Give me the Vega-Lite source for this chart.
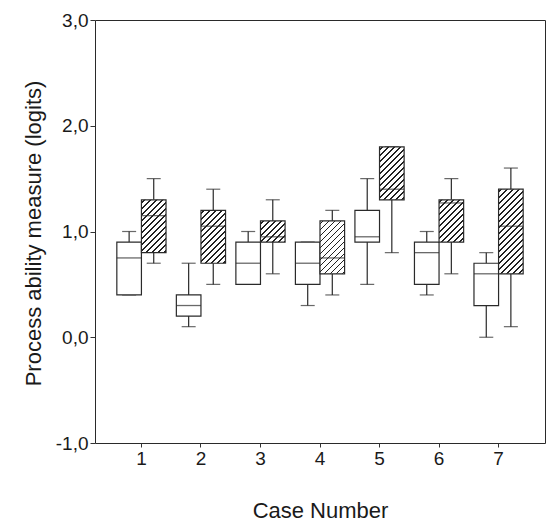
{
  "$schema": "https://vega.github.io/schema/vega-lite/v6.json",
  "width": 450,
  "height": 423,
  "autosize": {"type": "none"},
  "padding": {"left": 95, "top": 20, "right": 5, "bottom": 81},
  "background": "white",
  "config": {
    "view": {"stroke": "#2a2a2a", "strokeWidth": 1},
    "font": "Liberation Sans",
    "axis": {"labelFont": "Liberation Sans", "titleFont": "Liberation Sans", "labelColor": "#1a1a1a", "titleColor": "#1a1a1a", "tickColor": "#333", "grid": false, "domain": false}
  },
  "data": {
    "values": [
      {"case": 1, "group": "A", "lo": 0.4, "q1": 0.4, "med": 0.75, "q3": 0.9, "hi": 1.0},
      {"case": 1, "group": "B", "lo": 0.7, "q1": 0.8, "med": 1.15, "q3": 1.3, "hi": 1.5},
      {"case": 2, "group": "A", "lo": 0.1, "q1": 0.2, "med": 0.3, "q3": 0.4, "hi": 0.7},
      {"case": 2, "group": "B", "lo": 0.5, "q1": 0.7, "med": 1.05, "q3": 1.2, "hi": 1.4},
      {"case": 3, "group": "A", "lo": 0.5, "q1": 0.5, "med": 0.7, "q3": 0.9, "hi": 1.0},
      {"case": 3, "group": "B", "lo": 0.6, "q1": 0.9, "med": 0.95, "q3": 1.1, "hi": 1.3},
      {"case": 4, "group": "A", "lo": 0.3, "q1": 0.5, "med": 0.7, "q3": 0.9, "hi": 0.9},
      {"case": 4, "group": "B", "lo": 0.4, "q1": 0.6, "med": 0.75, "q3": 1.1, "hi": 1.2},
      {"case": 5, "group": "A", "lo": 0.5, "q1": 0.9, "med": 0.95, "q3": 1.2, "hi": 1.5},
      {"case": 5, "group": "B", "lo": 0.8, "q1": 1.3, "med": 1.4, "q3": 1.8, "hi": 1.8},
      {"case": 6, "group": "A", "lo": 0.4, "q1": 0.5, "med": 0.8, "q3": 0.9, "hi": 1.0},
      {"case": 6, "group": "B", "lo": 0.6, "q1": 0.9, "med": 1.27, "q3": 1.3, "hi": 1.5},
      {"case": 7, "group": "A", "lo": 0.0, "q1": 0.3, "med": 0.6, "q3": 0.7, "hi": 0.8},
      {"case": 7, "group": "B", "lo": 0.1, "q1": 0.6, "med": 1.05, "q3": 1.4, "hi": 1.6}
    ]
  },
  "encoding": {
    "x": {
      "field": "case", "type": "ordinal",
      "scale": {"paddingInner": 0, "paddingOuter": 0.28},
      "axis": {"labelAngle": 0, "labelFontSize": 19, "tickSize": 4, "labelPadding": 2, "title": "Case Number", "titleFontSize": 22, "titleFontWeight": "normal", "titleBaseline": "alphabetic", "titleX": 225, "titleY": 74}
    },
    "xOffset": {"field": "group", "type": "nominal", "scale": {"paddingInner": 0, "paddingOuter": 0.21}}
  },
  "layer": [
    {
      "mark": {"type": "rule", "color": "#2a2a2a", "strokeWidth": 1.2},
      "encoding": {
        "y": {"field": "lo", "type": "quantitative", "scale": {"domain": [-1, 3], "nice": false, "zero": false},
          "axis": {"values": [-1, 0, 1, 2, 3], "labelExpr": "replace(replace(format(datum.value, '.1f'), '.', ','), '\u2212', '-')", "labelFontSize": 19, "tickSize": 5, "labelPadding": 2, "title": "Process ability measure (logits)", "titleFontSize": 22, "titleFontWeight": "normal", "titleBaseline": "alphabetic", "titleAngle": -90, "titleX": -55, "titleY": 213}},
        "y2": {"field": "q1"}
      }
    },
    {
      "mark": {"type": "rule", "color": "#2a2a2a", "strokeWidth": 1.2},
      "encoding": {
        "y": {"field": "q3", "type": "quantitative"},
        "y2": {"field": "hi"}
      }
    },
    {
      "mark": {"type": "tick", "color": "#2a2a2a", "size": 14, "thickness": 1.2},
      "encoding": {"y": {"field": "lo", "type": "quantitative"}}
    },
    {
      "mark": {"type": "tick", "color": "#2a2a2a", "size": 14, "thickness": 1.2},
      "encoding": {"y": {"field": "hi", "type": "quantitative"}}
    },
    {
      "mark": {"type": "bar", "stroke": "#2a2a2a", "strokeWidth": 1.2, "opacity": 1},
      "encoding": {
        "y": {"field": "q1", "type": "quantitative"},
        "y2": {"field": "q3"},
        "fill": {
          "condition": [
            {"test": "datum.group == 'B' && datum.case == 3", "value": {"gradient": "linear", "x1": 0, "y1": 0, "x2": 2.8048, "y2": 2.4115, "stops": [
              {"offset": 0.0175, "color": "#ffffff"}, {"offset": 0.0175, "color": "#222222"}, {"offset": 0.0325, "color": "#222222"}, {"offset": 0.0325, "color": "#ffffff"},
              {"offset": 0.0675, "color": "#ffffff"}, {"offset": 0.0675, "color": "#222222"}, {"offset": 0.0825, "color": "#222222"}, {"offset": 0.0825, "color": "#ffffff"},
              {"offset": 0.1175, "color": "#ffffff"}, {"offset": 0.1175, "color": "#222222"}, {"offset": 0.1325, "color": "#222222"}, {"offset": 0.1325, "color": "#ffffff"},
              {"offset": 0.1675, "color": "#ffffff"}, {"offset": 0.1675, "color": "#222222"}, {"offset": 0.1825, "color": "#222222"}, {"offset": 0.1825, "color": "#ffffff"},
              {"offset": 0.2175, "color": "#ffffff"}, {"offset": 0.2175, "color": "#222222"}, {"offset": 0.2325, "color": "#222222"}, {"offset": 0.2325, "color": "#ffffff"},
              {"offset": 0.2675, "color": "#ffffff"}, {"offset": 0.2675, "color": "#222222"}, {"offset": 0.2825, "color": "#222222"}, {"offset": 0.2825, "color": "#ffffff"},
              {"offset": 0.3175, "color": "#ffffff"}, {"offset": 0.3175, "color": "#222222"}, {"offset": 0.3325, "color": "#222222"}, {"offset": 0.3325, "color": "#ffffff"},
              {"offset": 0.3675, "color": "#ffffff"}, {"offset": 0.3675, "color": "#222222"}, {"offset": 0.3825, "color": "#222222"}, {"offset": 0.3825, "color": "#ffffff"}
            ]}},
            {"test": "datum.group == 'B' && datum.case == 6", "value": {"gradient": "linear", "x1": 0, "y1": 0, "x2": 1.2329, "y2": 2.1199, "stops": [
              {"offset": 0.0175, "color": "#ffffff"}, {"offset": 0.0175, "color": "#222222"}, {"offset": 0.0325, "color": "#222222"}, {"offset": 0.0325, "color": "#ffffff"},
              {"offset": 0.0675, "color": "#ffffff"}, {"offset": 0.0675, "color": "#222222"}, {"offset": 0.0825, "color": "#222222"}, {"offset": 0.0825, "color": "#ffffff"},
              {"offset": 0.1175, "color": "#ffffff"}, {"offset": 0.1175, "color": "#222222"}, {"offset": 0.1325, "color": "#222222"}, {"offset": 0.1325, "color": "#ffffff"},
              {"offset": 0.1675, "color": "#ffffff"}, {"offset": 0.1675, "color": "#222222"}, {"offset": 0.1825, "color": "#222222"}, {"offset": 0.1825, "color": "#ffffff"},
              {"offset": 0.2175, "color": "#ffffff"}, {"offset": 0.2175, "color": "#222222"}, {"offset": 0.2325, "color": "#222222"}, {"offset": 0.2325, "color": "#ffffff"},
              {"offset": 0.2675, "color": "#ffffff"}, {"offset": 0.2675, "color": "#222222"}, {"offset": 0.2825, "color": "#222222"}, {"offset": 0.2825, "color": "#ffffff"},
              {"offset": 0.3175, "color": "#ffffff"}, {"offset": 0.3175, "color": "#222222"}, {"offset": 0.3325, "color": "#222222"}, {"offset": 0.3325, "color": "#ffffff"},
              {"offset": 0.3675, "color": "#ffffff"}, {"offset": 0.3675, "color": "#222222"}, {"offset": 0.3825, "color": "#222222"}, {"offset": 0.3825, "color": "#ffffff"},
              {"offset": 0.4175, "color": "#ffffff"}, {"offset": 0.4175, "color": "#222222"}, {"offset": 0.4325, "color": "#222222"}, {"offset": 0.4325, "color": "#ffffff"},
              {"offset": 0.4675, "color": "#ffffff"}, {"offset": 0.4675, "color": "#222222"}, {"offset": 0.4825, "color": "#222222"}, {"offset": 0.4825, "color": "#ffffff"},
              {"offset": 0.5175, "color": "#ffffff"}, {"offset": 0.5175, "color": "#222222"}, {"offset": 0.5325, "color": "#222222"}, {"offset": 0.5325, "color": "#ffffff"}
            ]}},
            {"test": "datum.group == 'B' && datum.case == 7", "value": {"gradient": "linear", "x1": 0, "y1": 0, "x2": 0.3803, "y2": 1.3079, "stops": [
              {"offset": 0.0175, "color": "#ffffff"}, {"offset": 0.0175, "color": "#222222"}, {"offset": 0.0325, "color": "#222222"}, {"offset": 0.0325, "color": "#ffffff"},
              {"offset": 0.0675, "color": "#ffffff"}, {"offset": 0.0675, "color": "#222222"}, {"offset": 0.0825, "color": "#222222"}, {"offset": 0.0825, "color": "#ffffff"},
              {"offset": 0.1175, "color": "#ffffff"}, {"offset": 0.1175, "color": "#222222"}, {"offset": 0.1325, "color": "#222222"}, {"offset": 0.1325, "color": "#ffffff"},
              {"offset": 0.1675, "color": "#ffffff"}, {"offset": 0.1675, "color": "#222222"}, {"offset": 0.1825, "color": "#222222"}, {"offset": 0.1825, "color": "#ffffff"},
              {"offset": 0.2175, "color": "#ffffff"}, {"offset": 0.2175, "color": "#222222"}, {"offset": 0.2325, "color": "#222222"}, {"offset": 0.2325, "color": "#ffffff"},
              {"offset": 0.2675, "color": "#ffffff"}, {"offset": 0.2675, "color": "#222222"}, {"offset": 0.2825, "color": "#222222"}, {"offset": 0.2825, "color": "#ffffff"},
              {"offset": 0.3175, "color": "#ffffff"}, {"offset": 0.3175, "color": "#222222"}, {"offset": 0.3325, "color": "#222222"}, {"offset": 0.3325, "color": "#ffffff"},
              {"offset": 0.3675, "color": "#ffffff"}, {"offset": 0.3675, "color": "#222222"}, {"offset": 0.3825, "color": "#222222"}, {"offset": 0.3825, "color": "#ffffff"},
              {"offset": 0.4175, "color": "#ffffff"}, {"offset": 0.4175, "color": "#222222"}, {"offset": 0.4325, "color": "#222222"}, {"offset": 0.4325, "color": "#ffffff"},
              {"offset": 0.4675, "color": "#ffffff"}, {"offset": 0.4675, "color": "#222222"}, {"offset": 0.4825, "color": "#222222"}, {"offset": 0.4825, "color": "#ffffff"},
              {"offset": 0.5175, "color": "#ffffff"}, {"offset": 0.5175, "color": "#222222"}, {"offset": 0.5325, "color": "#222222"}, {"offset": 0.5325, "color": "#ffffff"},
              {"offset": 0.5675, "color": "#ffffff"}, {"offset": 0.5675, "color": "#222222"}, {"offset": 0.5825, "color": "#222222"}, {"offset": 0.5825, "color": "#ffffff"},
              {"offset": 0.6175, "color": "#ffffff"}, {"offset": 0.6175, "color": "#222222"}, {"offset": 0.6325, "color": "#222222"}, {"offset": 0.6325, "color": "#ffffff"},
              {"offset": 0.6675, "color": "#ffffff"}, {"offset": 0.6675, "color": "#222222"}, {"offset": 0.6825, "color": "#222222"}, {"offset": 0.6825, "color": "#ffffff"},
              {"offset": 0.7175, "color": "#ffffff"}, {"offset": 0.7175, "color": "#222222"}, {"offset": 0.7325, "color": "#222222"}, {"offset": 0.7325, "color": "#ffffff"},
              {"offset": 0.7675, "color": "#ffffff"}, {"offset": 0.7675, "color": "#222222"}, {"offset": 0.7825, "color": "#222222"}, {"offset": 0.7825, "color": "#ffffff"},
              {"offset": 0.8175, "color": "#ffffff"}, {"offset": 0.8175, "color": "#222222"}, {"offset": 0.8325, "color": "#222222"}, {"offset": 0.8325, "color": "#ffffff"},
              {"offset": 0.8675, "color": "#ffffff"}, {"offset": 0.8675, "color": "#222222"}, {"offset": 0.8825, "color": "#222222"}, {"offset": 0.8825, "color": "#ffffff"}
            ]}},
            {"test": "datum.group == 'B'", "value": {"gradient": "linear", "x1": 0, "y1": 0, "x2": 0.868, "y2": 1.8656, "stops": [
              {"offset": 0.0175, "color": "#ffffff"}, {"offset": 0.0175, "color": "#222222"}, {"offset": 0.0325, "color": "#222222"}, {"offset": 0.0325, "color": "#ffffff"},
              {"offset": 0.0675, "color": "#ffffff"}, {"offset": 0.0675, "color": "#222222"}, {"offset": 0.0825, "color": "#222222"}, {"offset": 0.0825, "color": "#ffffff"},
              {"offset": 0.1175, "color": "#ffffff"}, {"offset": 0.1175, "color": "#222222"}, {"offset": 0.1325, "color": "#222222"}, {"offset": 0.1325, "color": "#ffffff"},
              {"offset": 0.1675, "color": "#ffffff"}, {"offset": 0.1675, "color": "#222222"}, {"offset": 0.1825, "color": "#222222"}, {"offset": 0.1825, "color": "#ffffff"},
              {"offset": 0.2175, "color": "#ffffff"}, {"offset": 0.2175, "color": "#222222"}, {"offset": 0.2325, "color": "#222222"}, {"offset": 0.2325, "color": "#ffffff"},
              {"offset": 0.2675, "color": "#ffffff"}, {"offset": 0.2675, "color": "#222222"}, {"offset": 0.2825, "color": "#222222"}, {"offset": 0.2825, "color": "#ffffff"},
              {"offset": 0.3175, "color": "#ffffff"}, {"offset": 0.3175, "color": "#222222"}, {"offset": 0.3325, "color": "#222222"}, {"offset": 0.3325, "color": "#ffffff"},
              {"offset": 0.3675, "color": "#ffffff"}, {"offset": 0.3675, "color": "#222222"}, {"offset": 0.3825, "color": "#222222"}, {"offset": 0.3825, "color": "#ffffff"},
              {"offset": 0.4175, "color": "#ffffff"}, {"offset": 0.4175, "color": "#222222"}, {"offset": 0.4325, "color": "#222222"}, {"offset": 0.4325, "color": "#ffffff"},
              {"offset": 0.4675, "color": "#ffffff"}, {"offset": 0.4675, "color": "#222222"}, {"offset": 0.4825, "color": "#222222"}, {"offset": 0.4825, "color": "#ffffff"},
              {"offset": 0.5175, "color": "#ffffff"}, {"offset": 0.5175, "color": "#222222"}, {"offset": 0.5325, "color": "#222222"}, {"offset": 0.5325, "color": "#ffffff"},
              {"offset": 0.5675, "color": "#ffffff"}, {"offset": 0.5675, "color": "#222222"}, {"offset": 0.5825, "color": "#222222"}, {"offset": 0.5825, "color": "#ffffff"},
              {"offset": 0.6175, "color": "#ffffff"}, {"offset": 0.6175, "color": "#222222"}, {"offset": 0.6325, "color": "#222222"}, {"offset": 0.6325, "color": "#ffffff"}
            ]}}
          ],
          "value": "#ffffff"
        }
      }
    },
    {
      "mark": {"type": "tick", "color": "#2a2a2a", "size": 24.6, "thickness": 1.3},
      "encoding": {"y": {"field": "med", "type": "quantitative"}}
    }
  ]
}
